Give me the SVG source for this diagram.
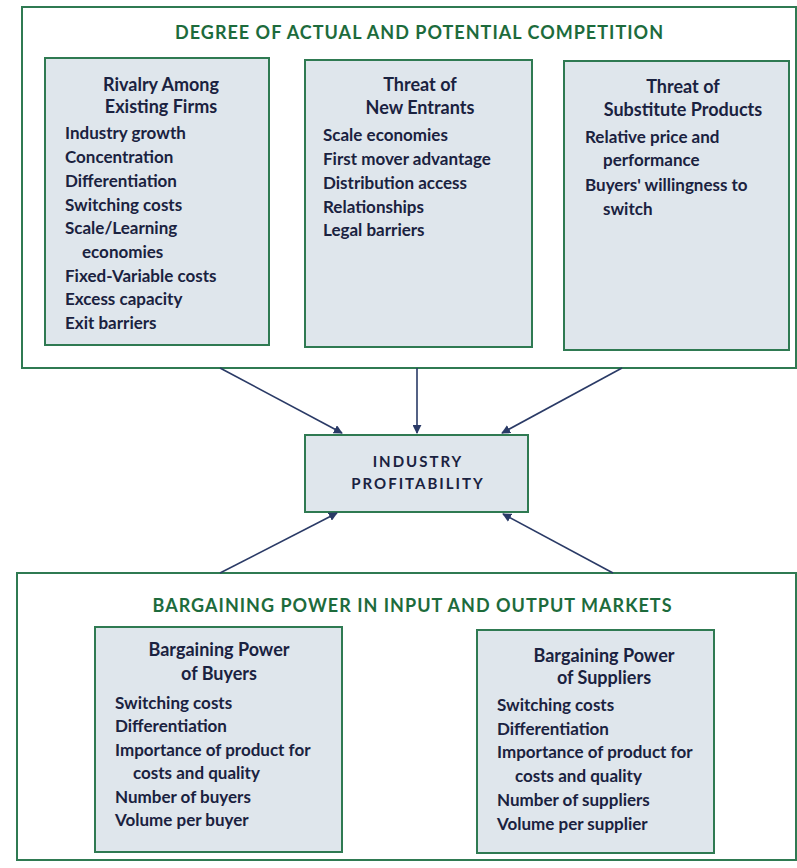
<svg xmlns="http://www.w3.org/2000/svg" width="797" height="868" viewBox="0 0 797 868">
<defs>
<marker id="ah" viewBox="0 0 10 10" refX="9" refY="5" markerWidth="9" markerHeight="9" markerUnits="userSpaceOnUse" orient="auto">
<path d="M0,0 L10,5 L0,10 z" fill="#2a3a66"/>
</marker>
<style>
.outer{fill:#ffffff;stroke:#2f7a52;stroke-width:2}
.box{fill:#dfe6ec;stroke:#2f7a52;stroke-width:2}
.hdr{font-family:Lato,"Open Sans","Liberation Sans",sans-serif;font-weight:700;font-size:18px;fill:#1d6b3c;text-anchor:middle}
.ttl{font-family:Lato,"Open Sans","Liberation Sans",sans-serif;font-weight:700;font-size:18px;fill:#1a2240;text-anchor:middle}
.it{font-family:Lato,"Open Sans","Liberation Sans",sans-serif;font-weight:700;font-size:17px;fill:#1a2240}
.cap{font-family:Lato,"Open Sans","Liberation Sans",sans-serif;font-weight:700;font-size:15px;fill:#1a2240;text-anchor:middle;letter-spacing:2px}
.conn{stroke:#2a3a66;stroke-width:1.6;fill:none;marker-end:url(#ah)}
</style>
</defs>
<rect width="797" height="868" fill="#ffffff"/>

<g id="competition">
<rect class="outer" x="22" y="7" width="774" height="361"/>
<text class="hdr" x="419" y="39" textLength="488" lengthAdjust="spacing">DEGREE OF ACTUAL AND POTENTIAL COMPETITION</text>
</g>

<g id="rivalry">
<rect class="box" x="45" y="58" width="224" height="287"/>
<text class="ttl" x="161" y="91">Rivalry Among</text>
<text class="ttl" x="161" y="113">Existing Firms</text>
<text class="it" x="65" y="139">Industry growth</text>
<text class="it" x="65" y="163">Concentration</text>
<text class="it" x="65" y="187">Differentiation</text>
<text class="it" x="65" y="211">Switching costs</text>
<text class="it" x="65" y="234">Scale/Learning</text>
<text class="it" x="82" y="258">economies</text>
<text class="it" x="65" y="282">Fixed-Variable costs</text>
<text class="it" x="65" y="305">Excess capacity</text>
<text class="it" x="65" y="329">Exit barriers</text>
</g>

<g id="entrants">
<rect class="box" x="305" y="60" width="227" height="287"/>
<text class="ttl" x="420" y="91">Threat of</text>
<text class="ttl" x="420" y="114">New Entrants</text>
<text class="it" x="323" y="141">Scale economies</text>
<text class="it" x="323" y="165">First mover advantage</text>
<text class="it" x="323" y="189">Distribution access</text>
<text class="it" x="323" y="213">Relationships</text>
<text class="it" x="323" y="236">Legal barriers</text>
</g>

<g id="substitutes">
<rect class="box" x="564" y="61" width="225" height="289"/>
<text class="ttl" x="683" y="93">Threat of</text>
<text class="ttl" x="683" y="116">Substitute Products</text>
<text class="it" x="585" y="143">Relative price and</text>
<text class="it" x="603" y="166">performance</text>
<text class="it" x="585" y="191">Buyers' willingness to</text>
<text class="it" x="603" y="215">switch</text>
</g>

<g id="profitability">
<rect class="box" x="305" y="435" width="223" height="77"/>
<text class="cap" x="418" y="467">INDUSTRY</text>
<text class="cap" x="418" y="489">PROFITABILITY</text>
</g>

<g id="bargaining">
<rect class="outer" x="17" y="573" width="779" height="287"/>
<text class="hdr" x="412" y="612" textLength="519" lengthAdjust="spacing">BARGAINING POWER IN INPUT AND OUTPUT MARKETS</text>
</g>

<g id="buyers">
<rect class="box" x="95" y="627" width="247" height="225"/>
<text class="ttl" x="219" y="656">Bargaining Power</text>
<text class="ttl" x="219" y="680">of Buyers</text>
<text class="it" x="115" y="709">Switching costs</text>
<text class="it" x="115" y="732">Differentiation</text>
<text class="it" x="115" y="756">Importance of product for</text>
<text class="it" x="133" y="779">costs and quality</text>
<text class="it" x="115" y="803">Number of buyers</text>
<text class="it" x="115" y="826">Volume per buyer</text>
</g>

<g id="suppliers">
<rect class="box" x="477" y="630" width="237" height="223"/>
<text class="ttl" x="604" y="662">Bargaining Power</text>
<text class="ttl" x="604" y="684">of Suppliers</text>
<text class="it" x="497" y="711">Switching costs</text>
<text class="it" x="497" y="735">Differentiation</text>
<text class="it" x="497" y="758">Importance of product for</text>
<text class="it" x="515" y="782">costs and quality</text>
<text class="it" x="497" y="806">Number of suppliers</text>
<text class="it" x="497" y="830">Volume per supplier</text>
</g>

<g id="connectors">
<line class="conn" x1="220" y1="368" x2="342" y2="433"/>
<line class="conn" x1="417" y1="368" x2="417" y2="433"/>
<line class="conn" x1="622" y1="368" x2="502" y2="433"/>
<line class="conn" x1="220" y1="573" x2="337" y2="513"/>
<line class="conn" x1="613" y1="573" x2="503" y2="514"/>
</g>
</svg>
